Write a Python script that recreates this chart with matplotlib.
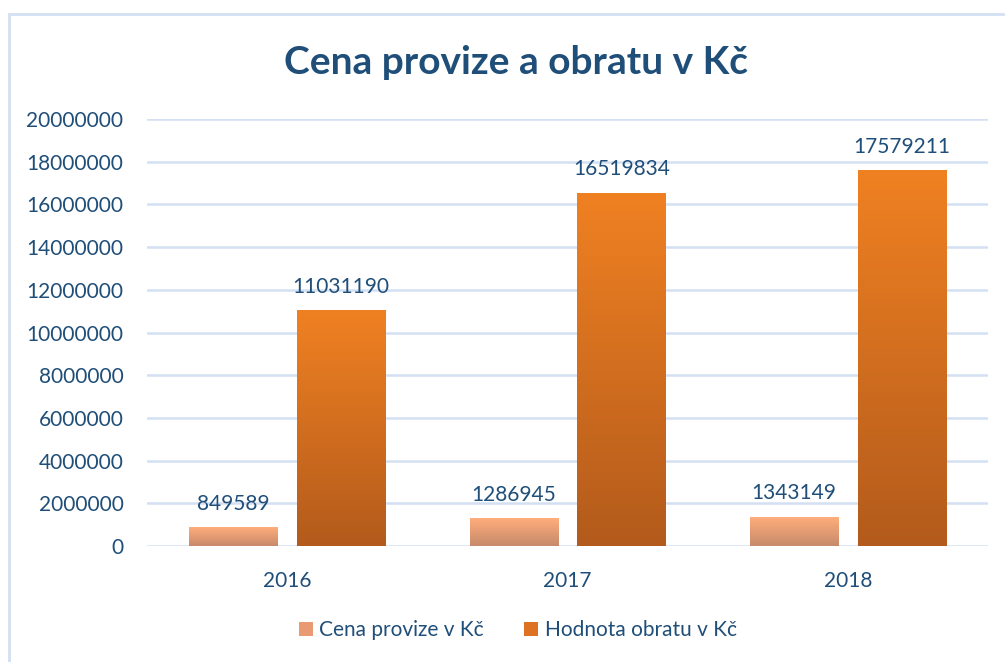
import matplotlib

matplotlib.use("Agg")
import matplotlib.pyplot as plt
import numpy as np
from matplotlib.colors import LinearSegmentedColormap
from matplotlib.patches import Patch, Rectangle

years = ["2016", "2017", "2018"]
provize = [849589, 1286945, 1343149]
obrat = [11031190, 16519834, 17579211]
series_names = ["Cena provize v Kč", "Hodnota obratu v Kč"]

TEXT = "#1f4e79"
GRID = "#d3e0f2"
PEACH = ("#c78a6b", "#ffad7b")  # bottom, top
ORANGE = ("#b35b1c", "#f08122")

plt.rcParams["font.family"] = ["Lato", "DejaVu Sans"]

fig = plt.figure(figsize=(10.05, 6.62), dpi=100)
ax = fig.add_axes([0.1463, 0.1752, 0.8367, 0.645])

x = np.arange(len(years))
width = 0.314
gap = 0.071
offset = (width + gap) / 2

grad = np.linspace(0, 1, 256).reshape(-1, 1)


def gradient_bars(positions, values, colors, label):
    cmap = LinearSegmentedColormap.from_list(label, list(colors))
    bars = ax.bar(positions, values, width, color="none", label=label)
    for bar in bars:
        x0 = bar.get_x()
        ax.imshow(grad, cmap=cmap, origin="lower", aspect="auto",
                  extent=[x0, x0 + bar.get_width(), 0, bar.get_height()], zorder=2)
        ax.annotate(f"{int(bar.get_height())}", (bar.get_x() + bar.get_width() / 2, bar.get_height()),
                    xytext=(0, 10), textcoords="offset points", ha="center", va="bottom",
                    fontsize=15, color=TEXT)
    return bars


gradient_bars(x - offset, provize, PEACH, series_names[0])
gradient_bars(x + offset, obrat, ORANGE, series_names[1])

ax.set_xlim(-0.5, 2.5)
ax.set_ylim(0, 20000000)
ax.set_yticks(np.arange(0, 20000001, 2000000))
ax.yaxis.set_major_formatter(matplotlib.ticker.FuncFormatter(lambda v, p: f"{int(v)}"))
ax.set_xticks(x)
ax.set_xticklabels(years)
ax.tick_params(axis="both", length=0, labelsize=15, labelcolor=TEXT)
ax.tick_params(axis="x", pad=18)
ax.tick_params(axis="y", pad=17)
ax.grid(axis="y", color=GRID, linewidth=1.8, zorder=0)
ax.set_axisbelow(True)
for side in ["top", "right", "left", "bottom"]:
    ax.spines[side].set_visible(False)

fig.text(0.513, 0.906, "Cena provize a obratu v Kč", ha="center", va="center",
         fontsize=28, fontweight="bold", color=TEXT)

handles = [Patch(facecolor="#e99a72"), Patch(facecolor="#dd7322")]
fig.legend(handles, series_names, loc="center", bbox_to_anchor=(0.515, 0.048), ncol=2,
           frameon=False, fontsize=15, labelcolor=TEXT, handlelength=0.7, handleheight=0.7,
           handletextpad=0.3, columnspacing=1.9)

fig.patches.append(Rectangle((9 / 1005, -0.1), 1.2, 1 - 14 / 662 + 0.1, transform=fig.transFigure,
                             fill=False, edgecolor=GRID, linewidth=2))

fig.savefig("out.png", dpi=100)
